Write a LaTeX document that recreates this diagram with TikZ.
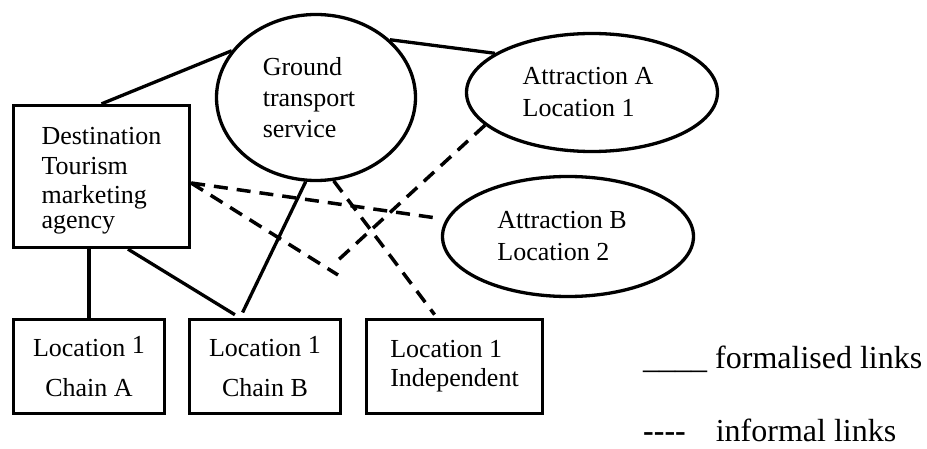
\documentclass[tikz,border=0pt]{standalone}
\usepackage{fontspec}
\setmainfont{Liberation Serif}
\usetikzlibrary{shapes.geometric}

\begin{document}
\begin{tikzpicture}[x=1pt,y=-1pt,
  every node/.style={font=\fontsize{26}{31}\selectfont, inner sep=0pt},
  box/.style={draw, line width=3.3pt, rectangle},
  oval/.style={draw, line width=3.3pt, ellipse},
  formal/.style={line width=3.3pt},
  informal/.style={line width=3.5pt, dash pattern=on 14pt off 9pt},
  legendtext/.style={anchor=base west, font=\fontsize{32}{38}\selectfont},
]
\useasboundingbox[fill=white] (0,0) rectangle (927,449);

% organisations
\node[box, minimum width=176pt, minimum height=142pt, align=left,
      font=\fontsize{26}{30}\selectfont] (dest) at (101.5,176.5)
      {\rule{0pt}{25pt}Destination\\Tourism\\[-1pt]marketing\\[-5pt]agency};
\node[oval, minimum width=199pt, minimum height=166pt, align=left] (ground) at (316,97.5)
      {Ground\\transport\rule{14pt}{0pt}\\service};
\node[oval, minimum width=251pt, minimum height=118pt, align=left,
      font=\fontsize{26}{32}\selectfont] (attrA) at (592,92.5)
      {Attraction A\rule{8pt}{0pt}\\Location 1};
\node[oval, minimum width=251pt, minimum height=120pt, align=left,
      font=\fontsize{26}{32}\selectfont] (attrB) at (568,236.5)
      {Attraction B\rule{12pt}{0pt}\\Location 2};
\node[box, minimum width=151pt, minimum height=94pt, align=center,
      font=\fontsize{26}{40}\selectfont] (chainA) at (89,366.5)
      {Location \raisebox{2.5pt}{1}\\Chain A};
\node[box, minimum width=151pt, minimum height=94pt, align=center,
      font=\fontsize{26}{40}\selectfont] (chainB) at (265,366.5)
      {Location \raisebox{2.5pt}{1}\\Chain B};
\node[box, minimum width=176pt, minimum height=94pt, align=left,
      font=\fontsize{26}{29}\selectfont] (indep) at (454.5,366.5)
      {Location 1\\Independent};

% formalised links
\draw[formal] (dest.north) -- (ground.151);
\draw[formal] (ground.38) -- (attrA.158);
\draw[formal, shorten >=6pt] (ground.263) -- ([xshift=-25pt]chainB.north);
\draw[formal] (chainA.north |- dest.south) -- (chainA.north);
\draw[formal, shorten >=6pt] ([xshift=26.5pt]dest.south) -- ([xshift=-25pt]chainB.north);

% informal links
\coordinate (v1) at (338,275);
\coordinate (v2) at (335,263);
\draw[informal] ([yshift=-6.5pt]dest.east) -- (v1);
\draw[informal, shorten >=10pt] ([yshift=-6.5pt]dest.east) -- (attrB.172);
\draw[informal] (attrA.197) -- (v2);
\draw[informal, shorten >=4pt] (ground.282) -- ([xshift=-17.5pt]indep.north);

% legend
\node[legendtext] (formalkey) at (643,368) {\_\_\_\_ formalised links};
\node[legendtext] (informalkey) at (643,441)
      {{\bfseries -\kern0pt-\kern0pt-\kern0pt-}\hspace{30pt}informal links};
\end{tikzpicture}
\end{document}
